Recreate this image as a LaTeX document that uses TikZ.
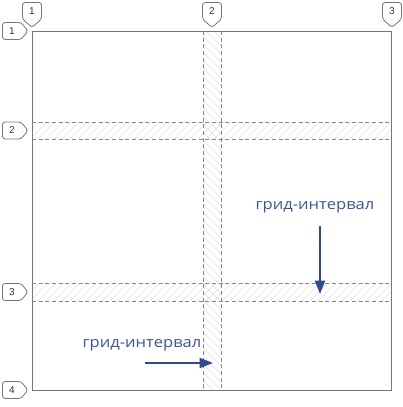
\documentclass[tikz,border=0pt]{standalone}
\usepackage{fontspec}
\setmainfont{Open Sans}
\newfontfamily\markfont{Liberation Sans}
\newfontfamily\labelfont[FakeStretch=1.13]{Open Sans}
\usetikzlibrary{arrows.meta}
\definecolor{gridblue}{RGB}{48,72,152}
\definecolor{labelblue}{RGB}{58,82,162}
\definecolor{framegray}{RGB}{118,118,118}
\definecolor{guidegray}{RGB}{135,135,135}
\definecolor{hatchgray}{RGB}{222,222,222}

\tikzset{
  markerbox/.style={draw=framegray, fill=white, rounded corners=2pt, line width=0.6pt},
  markernum/.style={inner sep=0pt, font=\markfont\fontsize{7.5}{8}\selectfont, text=black!80},
  guide/.style={draw=guidegray, dash pattern=on 3pt off 2pt, line width=0.5pt},
  hatch/.style={draw=hatchgray, line width=0.5pt},
  pointer/.style={draw=gridblue, line width=1.3pt, -{Triangle[length=10pt,width=7.5pt]}},
  gridlabel/.style={text=labelblue, inner sep=0.75pt, font=\labelfont\fontsize{11}{13}\selectfont},
}

\begin{document}
\begin{tikzpicture}[x=0.75pt,y=0.75pt,yscale=-1,xscale=1]
\useasboundingbox (0,0) rectangle (403,407);

%Hatching: vertical band
\begin{scope}
\clip (203,31) rectangle (221,390);
\foreach \y in {12,20,...,390}
  \draw[hatch] (203,\y) -- ++(18,18);
\end{scope}
%Hatching: horizontal bands
\foreach \ytop/\ybot in {122/139,283/301}{
  \begin{scope}
  \clip (32,\ytop) rectangle (391,\ybot);
  \foreach \x in {14,22,...,398}
    \draw[hatch] (\x,\ybot) -- ++(18,-18);
  \end{scope}
}

%Shape: Frame
\draw[framegray, line width=0.75pt] (32,31) rectangle (391,390);

%Dashed guides
\draw[guide] (203,31) -- (203,390);
\draw[guide] (221,31) -- (221,390);
\draw[guide] (32,122) -- (391,122);
\draw[guide] (32,139) -- (391,139);
\draw[guide] (32,283) -- (391,283);
\draw[guide] (32,301) -- (391,301);

%Markers on top
\foreach \cx/\n in {32/1,212/2,392/3}{
  \draw[markerbox] (\cx-9.5,2.5) -- (\cx+9.5,2.5) -- (\cx+9.5,19) -- (\cx,27.5) -- (\cx-9.5,19) -- cycle;
  \node[markernum] (top\n) at (\cx,11) {\n};
}
%Markers on left
\foreach \cy/\n in {31/1,130.5/2,292/3,390/4}{
  \draw[markerbox] (2.5,\cy-8.5) -- (21,\cy-8.5) -- (28,\cy) -- (21,\cy+8.5) -- (2.5,\cy+8.5) -- cycle;
  \node[markernum] (left\n) at (12,\cy) {\n};
}

% Text Node
\node[gridlabel] (intervalA) at (315,207) {грид-интервал};
% Text Node
\node[gridlabel] (intervalB) at (142,345) {грид-интервал};

\coordinate (downfrom) at (320,226);
\coordinate (downto) at (320,294);
\coordinate (rightfrom) at (145,363);
\coordinate (rightto) at (213,363);

%Arrows
\draw[pointer] (downfrom) -- (downto);
\draw[pointer] (rightfrom) -- (rightto);

\end{tikzpicture}
\end{document}
